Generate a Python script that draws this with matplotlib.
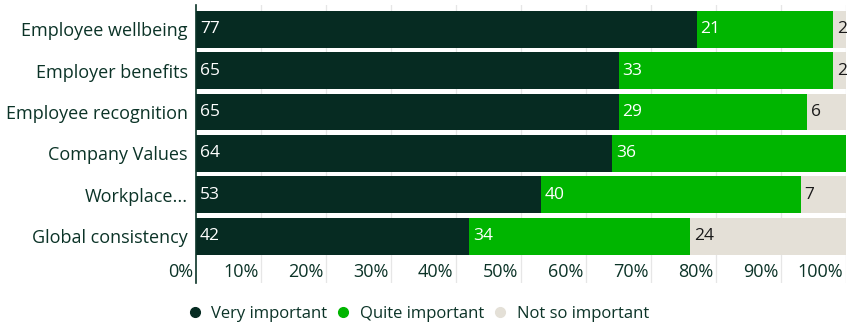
import matplotlib.pyplot as plt
from matplotlib.lines import Line2D

plt.rcParams['font.family'] = ['Open Sans', 'DejaVu Sans']

categories = ['Employee wellbeing', 'Employer benefits', 'Employee recognition',
              'Company Values', 'Workplace...', 'Global consistency']
very_important = [77, 65, 65, 64, 53, 42]
quite_important = [21, 33, 29, 36, 40, 34]
not_so_important = [2, 2, 6, 0, 7, 24]
series_names = ['Very important', 'Quite important', 'Not so important']
tick_values = [0, 10, 20, 30, 40, 50, 60, 70, 80, 90, 100]
tick_labels = ['0%', '10%', '20%', '30%', '40%', '50%', '60%', '70%', '80%', '90%', '100%']

dark = '#062b22'
green = '#00b500'
beige = '#e4e0d7'
text_col = '#0b3327'

fig = plt.figure(figsize=(8.49, 3.26), dpi=100)
ax = fig.add_axes([0.2309, 0.132, 0.7656, 0.853])

y = list(range(len(categories)))
series = [very_important, quite_important, not_so_important]
colors = [dark, green, beige]
label_colors = ['white', 'white', '#1a1a1a']
left = [0] * len(categories)
for vals, c, lc in zip(series, colors, label_colors):
    ax.barh(y, vals, left=left, height=0.89, color=c, zorder=2)
    for i, v in enumerate(vals):
        if v > 0:
            ax.text(left[i] + 0.6, i, str(v), va='center', ha='left',
                    color=lc, fontsize=12.5, zorder=3)
    left = [l + v for l, v in zip(left, vals)]

ax.set_xlim(0, 100)
ax.set_ylim(5.87 + 0.26, -0.59)

# light vertical grid behind the bars
for t in tick_values[1:]:
    ax.axvline(t, color='#e6e6e6', lw=0.9, zorder=1)

# x tick labels sit inside the axes, right-aligned on each gridline
for t, lab in zip(tick_values, tick_labels):
    ax.text(t - 0.4, 5.87, lab, ha='right', va='center', color=text_col, fontsize=13)

ax.set_xticks([])
ax.set_yticks(y)
ax.set_yticklabels(categories, fontsize=13, color=text_col)
ax.tick_params(axis='y', length=0, pad=6)
for s in ['top', 'right', 'bottom']:
    ax.spines[s].set_visible(False)
ax.spines['left'].set_color(text_col)
ax.spines['left'].set_linewidth(1.2)

handles = [Line2D([], [], marker='o', ls='', color=c, markersize=7) for c in colors]
fig.legend(handles, series_names, loc='center', bbox_to_anchor=(0.493, 0.036), ncol=3,
           frameon=False, fontsize=12, handlelength=0.8, handletextpad=0.6,
           columnspacing=0.55, labelcolor=text_col)

fig.savefig('out.png', dpi=100)
